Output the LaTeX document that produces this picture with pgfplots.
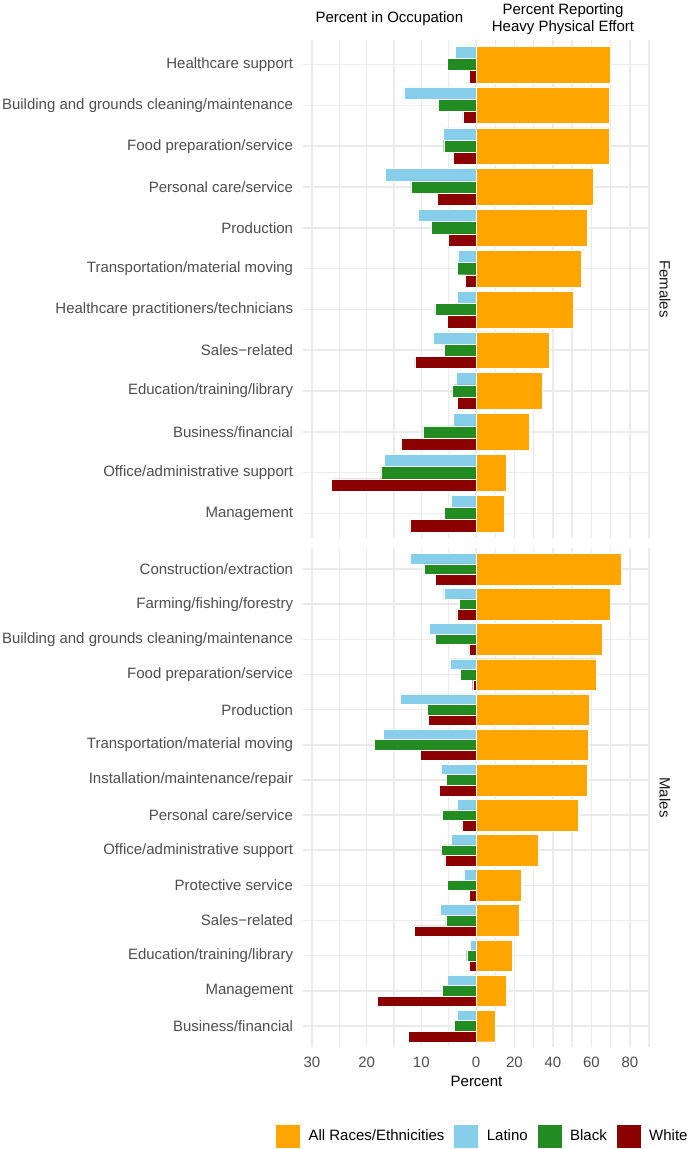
\documentclass[border=0pt]{standalone}
\usepackage{fontspec}
\setmainfont{Liberation Sans}
\usepackage{pgfplots}
\usepackage{pgfplotstable}
\pgfplotsset{compat=1.18}
\definecolor{cAll}{HTML}{FFA500}
\definecolor{cLat}{HTML}{87CEEB}
\definecolor{cBlk}{HTML}{228B22}
\definecolor{cWht}{HTML}{8B0000}
\definecolor{gridc}{HTML}{EBEBEB}
\definecolor{txt}{HTML}{4D4D4D}
\definecolor{strip}{HTML}{1A1A1A}
\newcommand\fs{\fontsize{15}{18}\selectfont}

\pgfplotstableread{
idx all lat blk wht
1 69.7 3.8 5.2 1.2
2 69.1 13.2 6.9 2.4
3 69.1 6.0 5.9 4.1
4 61.1 16.6 11.9 7.1
5 57.8 10.5 8.2 5.1
6 54.9 3.3 3.4 1.9
7 50.4 3.4 7.5 5.2
8 38.1 7.9 5.8 11.2
9 34.6 3.7 4.4 3.4
10 27.5 4.2 9.7 13.6
11 15.9 16.8 17.4 26.4
12 14.9 4.6 5.8 12.1
}\females

\pgfplotstableread{
idx all lat blk wht
1 75.3 12.1 9.5 7.4
2 69.6 5.9 3.1 3.5
3 65.5 8.6 7.4 1.3
4 62.3 4.8 2.9 0.6
5 58.7 13.8 8.9 8.7
6 58.2 17.0 18.6 10.2
7 58.0 6.4 5.4 6.7
8 53.3 3.4 6.2 2.6
9 32.4 4.6 6.3 5.7
10 23.5 2.2 5.2 1.2
11 22.5 6.6 5.5 11.3
12 18.7 1.0 1.7 1.2
13 15.9 5.2 6.2 18.1
14 10.2 3.4 4.0 12.4
}\males

\pgfplotsset{
  base/.style={
    scale only axis, y dir=reverse,
    axis line style={draw=none},
    major tick length=0pt, minor tick length=0pt,
    tick style={draw=none},
    xmajorgrids, xminorgrids, ymajorgrids,
    major grid style={gridc, line width=1.5pt},
    minor grid style={gridc, line width=1.5pt},
    /pgf/number format/assume math mode=true,
    ticklabel style={font=\fs, text=txt},
    xticklabel style={anchor=north, inner sep=0pt, yshift=-10pt},
    yticklabel style={anchor=east, inner sep=0pt, xshift=-9.4pt},
  },
  leftax/.style={base, x dir=reverse, xmin=0, xmax=31.7,
    width=173.3pt, xtick={0,10,20,30}, minor xtick={5,15,25}},
  rightax/.style={base, xmin=0, xmax=90.4,
    width=174pt, xtick={20,40,60,80}, minor xtick={10,30,50,70,90},
    yticklabels={}},
  barb/.style={xbar, bar width=0.3, draw=white, line width=0.4pt},
  barall/.style={xbar, bar width=0.9, bar shift=0, draw=white, line width=0.4pt, fill=cAll},
}

\begin{document}
\begin{tikzpicture}
\useasboundingbox (0pt,0pt) rectangle (688pt,-1149pt);

% ---------- Females ----------
\begin{axis}[leftax, at={(302.7pt,-40pt)}, anchor=north west, height=498pt,
  ymin=0.4, ymax=12.6, ytick={1,...,12}, xticklabels={},
  yticklabels={Healthcare support,Building and grounds cleaning/maintenance,Food preparation/service,Personal care/service,Production,Transportation/material moving,Healthcare practitioners/technicians,Sales−related,Education/training/library,Business/financial,Office/administrative support,Management}]
\addplot[barb, bar shift=-0.3, fill=cLat] table[x=lat, y=idx] {\females};
\addplot[barb, bar shift=0, fill=cBlk] table[x=blk, y=idx] {\females};
\addplot[barb, bar shift=0.3, fill=cWht] table[x=wht, y=idx] {\females};
\end{axis}
\begin{axis}[rightax, at={(476pt,-40pt)}, anchor=north west, height=498pt,
  ymin=0.4, ymax=12.6, ytick={1,...,12}, xticklabels={}]
\addplot[barall] table[x=all, y=idx] {\females};
\end{axis}

% ---------- Males ----------
\begin{axis}[leftax, at={(302.7pt,-548pt)}, anchor=north west, height=499pt,
  ymin=0.4, ymax=14.6, ytick={1,...,14},
  yticklabels={Construction/extraction,Farming/fishing/forestry,Building and grounds cleaning/maintenance,Food preparation/service,Production,Transportation/material moving,Installation/maintenance/repair,Personal care/service,Office/administrative support,Protective service,Sales−related,Education/training/library,Management,Business/financial},
  legend columns=4,
  legend style={at={(axis description cs:1.031,-0.178)}, anchor=center, draw=none, fill=none, font=\fs,
    nodes={inner sep=0pt},
    /tikz/every odd column/.append style={column sep=8pt},
    /tikz/every even column/.append style={column sep=9pt}},
  legend image code/.code={\draw[#1] (0pt,-12pt) rectangle (25pt,12pt);}]
\addlegendimage{fill=cAll, draw=white}
\addlegendentry{All Races/Ethnicities}
\addlegendimage{fill=cLat, draw=white}
\addlegendentry{Latino}
\addlegendimage{fill=cBlk, draw=white}
\addlegendentry{Black}
\addlegendimage{fill=cWht, draw=white}
\addlegendentry{White}
\addplot[barb, bar shift=-0.3, fill=cLat, forget plot] table[x=lat, y=idx] {\males};
\addplot[barb, bar shift=0, fill=cBlk, forget plot] table[x=blk, y=idx] {\males};
\addplot[barb, bar shift=0.3, fill=cWht, forget plot] table[x=wht, y=idx] {\males};
\end{axis}
\begin{axis}[rightax, at={(476pt,-548pt)}, anchor=north west, height=499pt,
  ymin=0.4, ymax=14.6, ytick={1,...,14}]
\addplot[barall] table[x=all, y=idx] {\males};
\end{axis}

% ---------- titles ----------
\node[font=\fs, anchor=base] at (389.4pt,-22.5pt) {Percent in Occupation};
\node[font=\fs, anchor=base] at (563pt,-14pt) {Percent Reporting};
\node[font=\fs, anchor=base] at (563pt,-31pt) {Heavy Physical Effort};
\node[font=\fs, anchor=base] at (476.5pt,-1086.7pt) {Percent};
\node[font=\fs, text=strip, rotate=-90] at (665pt,-289pt) {Females};
\node[font=\fs, text=strip, rotate=-90] at (665pt,-797.5pt) {Males};
\end{tikzpicture}
\end{document}
